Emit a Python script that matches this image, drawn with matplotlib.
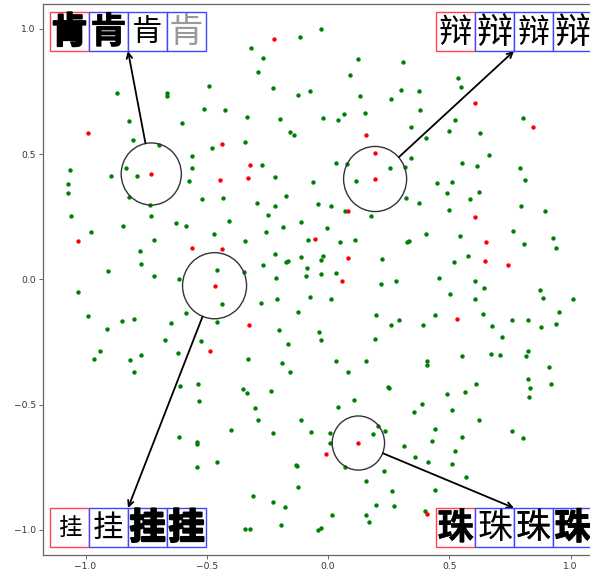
import matplotlib
matplotlib.use('Agg')
import matplotlib.pyplot as plt
from matplotlib.patches import Circle, Rectangle
import matplotlib.patheffects as pe

# ---------------- data ----------------
green_x = [
    -0.870, -0.666, -0.665, -0.492, -0.510, -0.427, -0.821, -0.601, -0.803, -0.698,
    -0.480, -0.560, -1.065, -0.834, -0.562, -0.894, -0.788, -1.073, -0.572, -1.073,
    -0.821, -0.518, -0.435, -0.734, -1.059, -0.731, -0.628, -0.587, -0.844, -0.979,
    -0.471, -0.716, -0.775, -0.772, -0.906, -0.716, -0.456, -0.613,
    -0.030, -0.117, -0.318, -0.267, 0.122, 0.308, -0.287, 0.091, -0.228, -0.125,
    -0.073, 0.300, 0.132, 0.259, -0.335, -0.197, -0.019, 0.042, 0.067, 0.153,
    -0.158, -0.140, -0.342, -0.273, 0.032, 0.078, 0.256, 0.318, -0.220, 0.114,
    -0.061, 0.323, -0.172, -0.294, -0.220, -0.042, 0.014, 0.071, 0.176, -0.246,
    -0.408, -0.111, -0.184, -0.004, -0.256, -0.341, -0.084, 0.048, 0.111, 0.324,
    0.332, -0.217, -0.172, -0.164, -0.111, -0.028, -0.019, 0.224, -0.267, -0.087,
    -0.213, -0.089, -0.030, 0.032, -0.348,
    0.536, 0.548, 0.376, 0.379, 0.525, 0.498, 0.628, 0.804, 0.344, 0.405,
    0.341, 0.663, 0.551, 0.616, 0.791, 0.814, 0.451, 0.510, 0.492, 0.623,
    0.584, 0.374, 0.498, 0.796, 0.894, 0.761, 0.404, 0.543, 0.927, 0.941,
    0.808, 0.575, 0.519, 0.459, 0.606,
    -1.032, -0.991, -0.911, -0.849, -0.801, -0.649, -0.584, -0.438, -0.456, -0.672,
    -0.524, -0.941, -0.965, -0.818, -0.770, -0.620, -0.799, -0.610, -0.536, -0.533,
    -0.616, -0.541, -0.541, -0.456, -0.539,
    0.217, 0.282, -0.278, -0.210, -0.073, 0.014, -0.125, 0.197, 0.292, 0.259,
    -0.202, -0.038, -0.028, 0.194, -0.166, -0.331, -0.190, 0.034, 0.155, -0.155,
    0.081, 0.246, 0.250, -0.349, -0.335, -0.235, 0.106, 0.040, -0.300, -0.290,
    -0.111, -0.400, -0.228, -0.069, 0.009, 0.009, 0.205, 0.235, 0.186, 0.315,
    -0.133, -0.127, 0.071, 0.230, 0.158, -0.122, 0.264, -0.308, -0.227, -0.176,
    0.199, 0.273, 0.016, 0.155, 0.168, -0.194, -0.344, -0.323, -0.042, -0.030,
    0.642, 0.504, 0.606, 0.875, 0.888, 1.009, 0.953, 0.440, 0.392, 0.639,
    0.675, 0.758, 0.826, 0.878, 0.941, 0.716, 0.824, 0.816, 0.672, 0.708,
    0.554, 0.409, 0.409, 0.911, 0.826, 0.834, 0.920, 0.610, 0.829, 0.564,
    0.489, 0.386, 0.353, 0.510, 0.623, 0.442, 0.428, 0.554, 0.758, 0.803,
    0.522, 0.360, 0.412, 0.510, 0.569, 0.442, 0.400,
]
green_y = [
    0.743, 0.743, 0.734, 0.772, 0.681, 0.675, 0.632, 0.624, 0.558, 0.537,
    0.524, 0.494, 0.438, 0.446, 0.446, 0.412, 0.412, 0.381, 0.393, 0.347,
    0.329, 0.321, 0.324, 0.296, 0.255, 0.255, 0.224, 0.215, 0.212, 0.190,
    0.182, 0.158, 0.113, 0.061, 0.033, 0.015, 0.038, 0.002,
    1.000, 0.969, 0.923, 0.885, 0.880, 0.867, 0.830, 0.815, 0.766, 0.738,
    0.752, 0.755, 0.731, 0.721, 0.649, 0.641, 0.644, 0.638, 0.662, 0.666,
    0.589, 0.577, 0.549, 0.458, 0.464, 0.461, 0.446, 0.447, 0.409, 0.392,
    0.389, 0.324, 0.335, 0.307, 0.292, 0.301, 0.295, 0.275, 0.255, 0.257,
    0.232, 0.230, 0.210, 0.206, 0.190, 0.155, 0.158, 0.150, 0.158, 0.151,
    0.155, 0.103, 0.070, 0.073, 0.090, 0.079, 0.095, 0.081, 0.058, 0.047,
    0.004, 0.013, 0.020, 0.025, 0.031,
    0.806, 0.770, 0.754, 0.678, 0.636, 0.593, 0.586, 0.643, 0.609, 0.566,
    0.486, 0.498, 0.466, 0.454, 0.446, 0.398, 0.384, 0.389, 0.344, 0.349,
    0.321, 0.307, 0.278, 0.293, 0.275, 0.195, 0.181, 0.175, 0.167, 0.127,
    0.141, 0.095, 0.070, 0.004, -0.006,
    -0.051, -0.145, -0.196, -0.164, -0.159, -0.174, -0.134, -0.097, -0.171, -0.242,
    -0.244, -0.284, -0.316, -0.321, -0.301, -0.293, -0.370, -0.424, -0.416, -0.484,
    -0.628, -0.647, -0.658, -0.730, -0.747,
    -0.019, -0.007, -0.094, -0.077, -0.071, -0.079, -0.131, -0.142, -0.162, -0.182,
    -0.202, -0.211, -0.242, -0.236, -0.256, -0.316, -0.333, -0.325, -0.325, -0.370,
    -0.370, -0.430, -0.435, -0.438, -0.453, -0.445, -0.482, -0.508, -0.513, -0.560,
    -0.560, -0.602, -0.613, -0.608, -0.613, -0.653, -0.586, -0.604, -0.617, -0.665,
    -0.742, -0.745, -0.749, -0.764, -0.804, -0.827, -0.844, -0.864, -0.887, -0.907,
    -0.901, -0.904, -0.939, -0.941, -0.968, -0.979, -0.996, -0.996, -1.000, -0.993,
    -0.034, -0.057, -0.077, -0.042, -0.074, -0.077, -0.131, -0.142, -0.182, -0.139,
    -0.184, -0.162, -0.162, -0.191, -0.179, -0.228, -0.285, -0.305, -0.296, -0.301,
    -0.307, -0.327, -0.341, -0.348, -0.396, -0.433, -0.416, -0.416, -0.468, -0.450,
    -0.458, -0.498, -0.530, -0.522, -0.562, -0.596, -0.644, -0.628, -0.605, -0.633,
    -0.685, -0.710, -0.730, -0.735, -0.787, -0.839, -0.926,
]
red_x = [
    -0.988, -0.438, -0.729, -0.444, -1.030, -0.560, -0.438, -0.222, 0.158, 0.194,
    0.194, -0.323, -0.330, 0.081, -0.055, 0.084, 0.605, 0.844, 0.604, 0.652,
    0.649, 0.744, -0.468, -0.485, 0.058, -0.326, 0.125, -0.008, 0.533, 0.406,
]
red_y = [
    0.586, 0.541, 0.421, 0.398, 0.152, 0.127, 0.122, 0.958, 0.578, 0.504,
    0.401, 0.456, 0.406, 0.272, 0.160, 0.087, 0.703, 0.609, 0.250, 0.150,
    0.075, 0.058, -0.025, -0.284, -0.007, -0.182, -0.653, -0.698, -0.159, -0.937,
]

# highlighted samples (indices into the red points) and their glyphs
focus_idx = [2, 10, 22, 26]
focus_radius = [0.124, 0.130, 0.132, 0.108]
glyphs = ['肯', '辩', '挂', '珠']

# ---------------- layout / style ----------------
W, H = 590, 574
CJK = ['Noto Sans CJK SC', 'DejaVu Sans']
PANEL = 39  # px
box_origin = [(50, 12), (436, 12), (50, 508), (436, 508)]  # top-left, px from top-left
box_top = [False, False, True, True]  # arrow hits top edge of the box (else bottom)

# per-box panel styles: (weight, colour, stroke, fontsize)
panel_styles = [
    [('heavy', 'black', 1.4, 26), ('bold', 'black', 0.6, 26),
     ('light', 'black', 0.0, 22), ('light', '0.6', 0.0, 25)],
    [('regular', 'black', 0.0, 24), ('regular', 'black', 0.0, 26),
     ('light', 'black', 0.0, 23), ('regular', 'black', 0.0, 26)],
    [('light', 'black', 0.0, 17), ('light', 'black', 0.0, 22),
     ('heavy', 'black', 1.5, 26), ('heavy', 'black', 1.5, 26)],
    [('bold', 'black', 0.3, 26), ('medium', 'black', 0.0, 25),
     ('regular', 'black', 0.2, 25), ('heavy', 'black', 0.8, 26)],
]
border_colors = ['#ff4444'] + ['#4444ff'] * 3

fig = plt.figure(figsize=(W / 100, H / 100), dpi=100)
ax_left, ax_right, ax_top, ax_bottom = 42.6, 598.0, 3.9, 555.0
ax = fig.add_axes([ax_left / W, 1 - ax_bottom / H,
                   (ax_right - ax_left) / W, (ax_bottom - ax_top) / H])

ax.scatter(green_x, green_y, s=10, c='green', linewidths=0, zorder=2)
ax.scatter(red_x, red_y, s=10, c='red', linewidths=0, zorder=3)
ax.margins(0.05)

for spine in ax.spines.values():
    spine.set_color('0.4')
    spine.set_linewidth(0.9)
ax.tick_params(labelsize=6.6, length=3, width=0.7, color='0.4', labelcolor='0.2', pad=2)
ax.set_xticks([-1.0, -0.5, 0.0, 0.5, 1.0])
ax.set_yticks([-1.0, -0.5, 0.0, 0.5, 1.0])

for k, idx in enumerate(focus_idx):
    cx, cy = red_x[idx], red_y[idx]
    circ = Circle((cx, cy), focus_radius[k], fill=False, ec='0.2', lw=1.0, zorder=4)
    ax.add_patch(circ)

    bx, by = box_origin[k]
    tx = bx + 2 * PANEL
    ty = by if box_top[k] else by + PANEL
    ax.annotate('', xy=(tx, H - ty), xycoords='figure pixels',
                xytext=(cx, cy), textcoords='data',
                arrowprops=dict(arrowstyle='->', color='black', lw=1.3,
                                patchA=circ, shrinkA=0, shrinkB=0),
                annotation_clip=False, zorder=5)

    for j in range(4):
        x0 = bx + j * PANEL
        rect = Rectangle((x0 / W, 1 - (by + PANEL) / H), PANEL / W, PANEL / H,
                         transform=fig.transFigure, facecolor='white',
                         edgecolor=border_colors[j], lw=1.0, zorder=6)
        fig.add_artist(rect)
        weight, col, stroke, fs = panel_styles[k][j]
        t = fig.text((x0 + PANEL / 2) / W, 1 - (by + PANEL / 2 + 1) / H, glyphs[k],
                     family=CJK, fontweight=weight, color=col, fontsize=fs,
                     ha='center', va='center', zorder=7)
        if stroke > 0:
            t.set_path_effects([pe.withStroke(linewidth=stroke, foreground=col)])

fig.savefig('out.png', dpi=100)
